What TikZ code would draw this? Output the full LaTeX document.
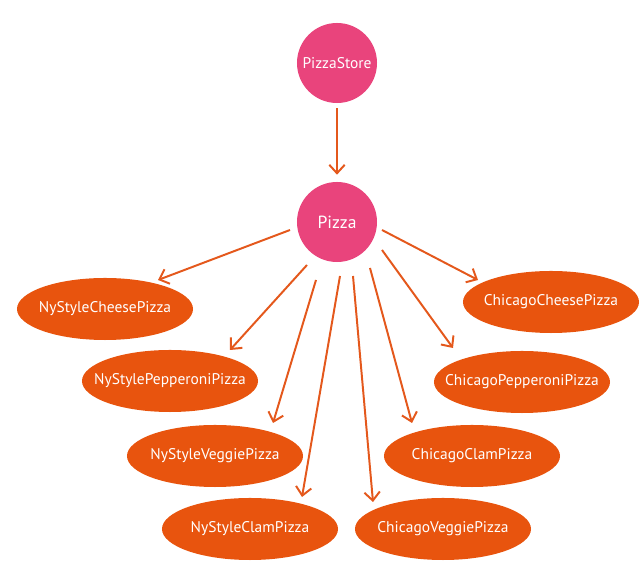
\documentclass[tikz,border=0pt]{standalone}
\usepackage{fontspec}
\setmainfont{PT Sans}
\usetikzlibrary{arrows.meta, calc, shapes.geometric}
\definecolor{storepink}{RGB}{233,68,124}
\definecolor{pizzaorange}{RGB}{232,84,14}
\definecolor{linkorange}{RGB}{228,88,28}

\begin{document}
\begin{tikzpicture}[x=0.025cm, y=-0.025cm,
    >={Straight Barb[length=6pt, width=11pt]},
    base/.style={circle, fill=storepink, minimum size=2cm, inner sep=0pt,
                 text=white, font=\fontsize{11}{13}\selectfont},
    kind/.style={ellipse, fill=pizzaorange, minimum width=4.4cm,
                 minimum height=1.55cm, inner xsep=-15pt, inner ysep=0pt,
                 text=white, font=\fontsize{11}{13}\selectfont},
    link/.style={->, draw=linkorange, line width=1.4pt}]
  \useasboundingbox (0,0) rectangle (640,582);

  % Store and base class
  \node[base] (store) at (337,63) {PizzaStore};
  \node[base, font=\fontsize{12.5}{14}\selectfont] (pizza) at (337,222) {Pizza};

  % Concrete pizzas
  \node[kind] (nycheese)  at (105,309) {NyStyleCheesePizza};
  \node[kind] (nypepper)  at (170,381) {NyStylePepperoniPizza};
  \node[kind] (nyveggie)  at (215,456) {NyStyleVeggiePizza};
  \node[kind] (nyclam)    at (250,529) {NyStyleClamPizza};
  \node[kind] (chveggie)  at (443,529) {ChicagoVeggiePizza};
  \node[kind] (chclam)    at (472,456) {ChicagoClamPizza};
  \node[kind] (chpepper)  at (522,382) {ChicagoPepperoniPizza};
  \node[kind] (chcheese)  at (551,302) {ChicagoCheesePizza};

  % Store uses Pizza
  \draw[link] ($(store.south)+(0,5)$) -- ($(pizza.north)+(0,-7)$);

  % Pizza to its subclasses
  \draw[link] ($(pizza)+(-47,8)$)  -- ($(nycheese)+(53,-29)$);
  \draw[link] ($(pizza)+(-30,43)$) -- ($(nypepper)+(60,-31)$);
  \draw[link] ($(pizza)+(-21,58)$) -- ($(nyveggie)+(58,-33)$);
  \draw[link] ($(pizza)+(3,54)$)   -- ($(nyclam)+(52,-32)$);
  \draw[link] ($(pizza)+(16,54)$)  -- ($(chveggie)+(-70,-27)$);
  \draw[link] ($(pizza)+(33,46)$)  -- ($(chclam)+(-60,-33)$);
  \draw[link] ($(pizza)+(45,28)$)  -- ($(chpepper)+(-69,-34)$);
  \draw[link] ($(pizza)+(45,8)$)   -- ($(chcheese)+(-73,-22)$);
\end{tikzpicture}
\end{document}
